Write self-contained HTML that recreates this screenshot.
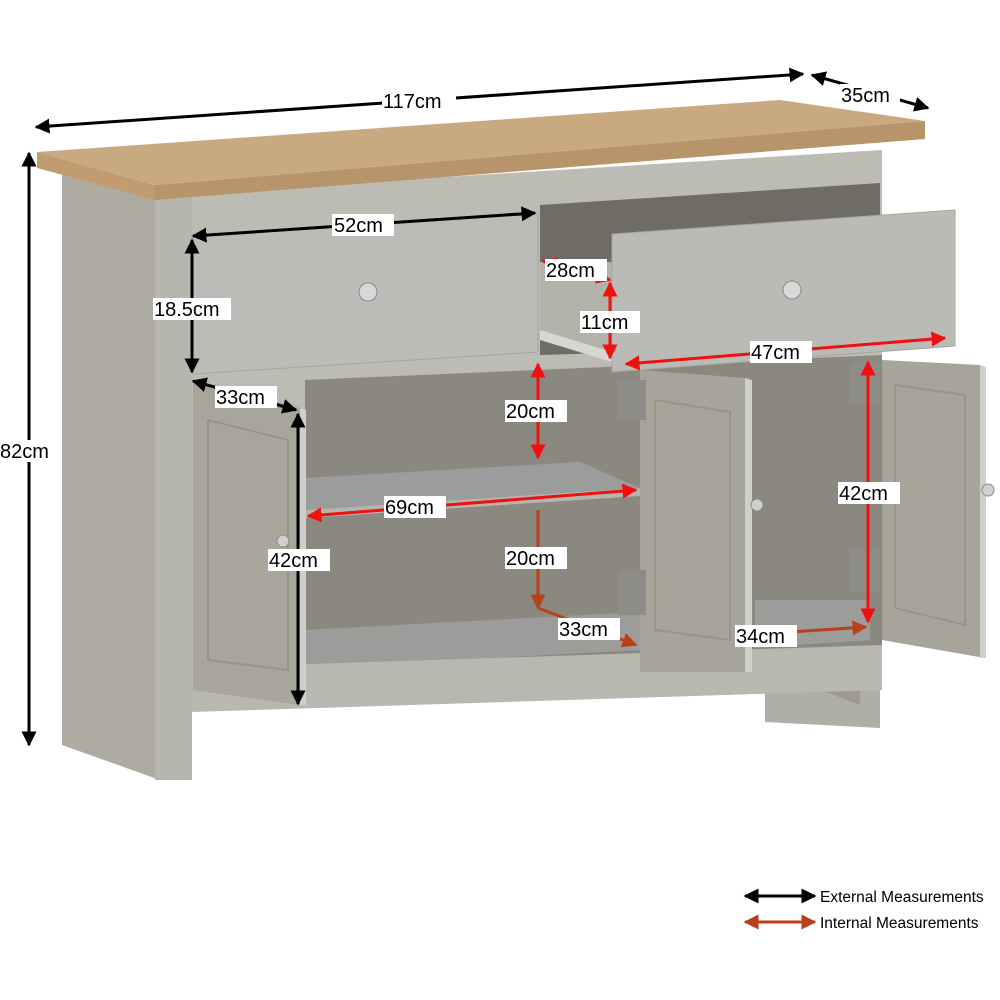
<!DOCTYPE html>
<html><head><meta charset="utf-8"><style>
html,body{margin:0;padding:0;background:#fff;width:1000px;height:1000px;overflow:hidden}
svg text{font-family:"Liberation Sans",sans-serif;font-size:20px;fill:#000}
</style></head><body>
<svg width="1000" height="1000" viewBox="0 0 1000 1000" xmlns="http://www.w3.org/2000/svg">
<defs>
<marker id="ab" viewBox="0 0 10 10" refX="9" refY="5" markerWidth="5" markerHeight="5" orient="auto-start-reverse"><path d="M0,0L10,5L0,10z" fill="#000"/></marker>
<marker id="ar" viewBox="0 0 10 10" refX="9" refY="5" markerWidth="5" markerHeight="5" orient="auto-start-reverse"><path d="M0,0L10,5L0,10z" fill="#f01010"/></marker>
<marker id="ao" viewBox="0 0 10 10" refX="9" refY="5" markerWidth="5" markerHeight="5" orient="auto-start-reverse"><path d="M0,0L10,5L0,10z" fill="#b8401a"/></marker>
</defs>
<polygon points="62,168 160,190 160,780 62,745" fill="#aeaba1"/>
<polygon points="765,660 880,655 880,728 765,722" fill="#b0afa7"/>
<polygon points="768,670 860,668 860,705" fill="#9c9a92"/>
<polygon points="155,195 882,150 882,690 155,712" fill="#bcbcb4"/>
<polygon points="155,195 192,193 192,780 155,780" fill="#b7b6ae"/>
<polygon points="540,205 880,183 880,345 540,355" fill="#6e6c64"/>
<polygon points="305,380 882,355 882,650 305,668" fill="#8b897f"/>
<polygon points="305,630 640,612 640,650 305,668" fill="#9c9d9b"/>
<polygon points="755,600 870,600 870,640 755,648" fill="#9c9d9b"/>
<polygon points="305,478 580,462 640,488 305,510" fill="#9b9d9c"/>
<polygon points="305,510 640,488 640,496 305,518" fill="#b5b5ae"/>
<polygon points="192,668 882,645 882,690 192,712" fill="#b8b7b0"/>
<polygon points="193,236 538,214 538,352 193,374" fill="#bbbcb7" stroke="#a5a59e"/>
<circle cx="368" cy="292" r="9" fill="#d8d8d8" stroke="#8a8a8a"/>
<polygon points="540,262 612,262 612,362 540,330" fill="#b2b1aa"/>
<polygon points="540,330 612,352 612,362 540,340" fill="#d6d6d2"/>
<polygon points="612,234 955,210 955,346 612,372" fill="#babbb6" stroke="#a5a59e"/>
<circle cx="792" cy="290" r="9" fill="#d8d8d8" stroke="#8a8a8a"/>
<polygon points="37,152 780,100 925,121 155,185" fill="#c9a97f"/>
<polygon points="155,185 925,121 925,139 155,200" fill="#b8946a"/>
<polygon points="37,152 155,185 155,200 37,168" fill="#c09c70"/>
<polygon points="193,380 300,408 300,705 193,690" fill="#a8a59b"/>
<polygon points="300,408 306,410 306,705 300,705" fill="#cfcfca"/>
<polygon points="208,420 288,440 288,670 208,660" fill="none" stroke="#989488" stroke-width="2"/>
<circle cx="283" cy="541" r="6" fill="#d0d0d0" stroke="#888"/>
<polygon points="640,370 745,378 752,672 640,672" fill="#a7a49a"/>
<polygon points="745,378 752,380 752,672 745,672" fill="#d0d0cb"/>
<polygon points="655,400 730,412 730,640 655,630" fill="none" stroke="#989488" stroke-width="2"/>
<rect x="618" y="380" width="28" height="40" fill="#8d8c86"/>
<rect x="618" y="570" width="28" height="45" fill="#8d8c86"/>
<circle cx="757" cy="505" r="6" fill="#d0d0d0" stroke="#888"/>
<polygon points="882,360 980,365 985,658 882,640" fill="#a7a49a"/>
<polygon points="980,365 986,367 986,658 980,658" fill="#d0d0cb"/>
<polygon points="895,385 965,395 965,625 895,608" fill="none" stroke="#989488" stroke-width="2"/>
<rect x="850" y="362" width="30" height="42" fill="#8d8c86"/>
<rect x="850" y="550" width="30" height="42" fill="#8d8c86"/>
<circle cx="988" cy="490" r="6" fill="#d0d0d0" stroke="#888"/>
<g stroke="#000" stroke-width="3" marker-start="url(#ab)" marker-end="url(#ab)">
<line x1="36" y1="127" x2="803" y2="74"/>
<line x1="812" y1="75" x2="928" y2="108"/>
<line x1="29" y1="153" x2="29" y2="745"/>
<line x1="193" y1="236" x2="535" y2="213"/>
<line x1="192" y1="240" x2="192" y2="372"/>
<line x1="193" y1="381" x2="296" y2="410"/>
<line x1="298" y1="414" x2="298" y2="704"/>
<line x1="745" y1="896" x2="815" y2="896"/>
</g>
<g stroke="#f01010" stroke-width="3" marker-start="url(#ar)" marker-end="url(#ar)">
<line x1="543" y1="261" x2="610" y2="280"/>
<line x1="610" y1="283" x2="610" y2="358"/>
<line x1="626" y1="364" x2="945" y2="338"/>
<line x1="538" y1="364" x2="538" y2="458"/>
<line x1="308" y1="516" x2="636" y2="490"/>
<line x1="868" y1="362" x2="868" y2="622"/>
</g>
<g stroke="#b8401a" stroke-width="3" marker-end="url(#ao)">
<line x1="538" y1="510" x2="538" y2="608"/>
<line x1="538" y1="608" x2="636" y2="645"/>
<line x1="790" y1="632" x2="866" y2="627"/>
<line x1="745" y1="922" x2="815" y2="922" marker-start="url(#ao)"/>
</g>
<g>
<rect x="382" y="90" width="74" height="22" fill="#fff"/><text x="383" y="108">117cm</text>
<rect x="840" y="84" width="60" height="22" fill="#fff"/><text x="841" y="102">35cm</text>
<rect x="0" y="440" width="58" height="22" fill="#fff"/><text x="0" y="458">82cm</text>
<rect x="332" y="214" width="62" height="22" fill="#fff"/><text x="334" y="232">52cm</text>
<rect x="153" y="298" width="78" height="22" fill="#fff"/><text x="154" y="316">18.5cm</text>
<rect x="215" y="386" width="62" height="22" fill="#fff"/><text x="216" y="404">33cm</text>
<rect x="268" y="549" width="62" height="22" fill="#fff"/><text x="269" y="567">42cm</text>
<rect x="545" y="259" width="62" height="22" fill="#fff"/><text x="546" y="277">28cm</text>
<rect x="580" y="311" width="60" height="22" fill="#fff"/><text x="581" y="329">11cm</text>
<rect x="750" y="341" width="62" height="22" fill="#fff"/><text x="751" y="359">47cm</text>
<rect x="505" y="400" width="62" height="22" fill="#fff"/><text x="506" y="418">20cm</text>
<rect x="384" y="496" width="62" height="22" fill="#fff"/><text x="385" y="514">69cm</text>
<rect x="505" y="547" width="62" height="22" fill="#fff"/><text x="506" y="565">20cm</text>
<rect x="558" y="618" width="62" height="22" fill="#fff"/><text x="559" y="636">33cm</text>
<rect x="838" y="482" width="62" height="22" fill="#fff"/><text x="839" y="500">42cm</text>
<rect x="735" y="625" width="62" height="22" fill="#fff"/><text x="736" y="643">34cm</text>
<text x="820" y="902" style="font-size:15.5px">External Measurements</text>
<text x="820" y="928" style="font-size:15.5px">Internal Measurements</text>
</g>
</svg>
</body></html>
